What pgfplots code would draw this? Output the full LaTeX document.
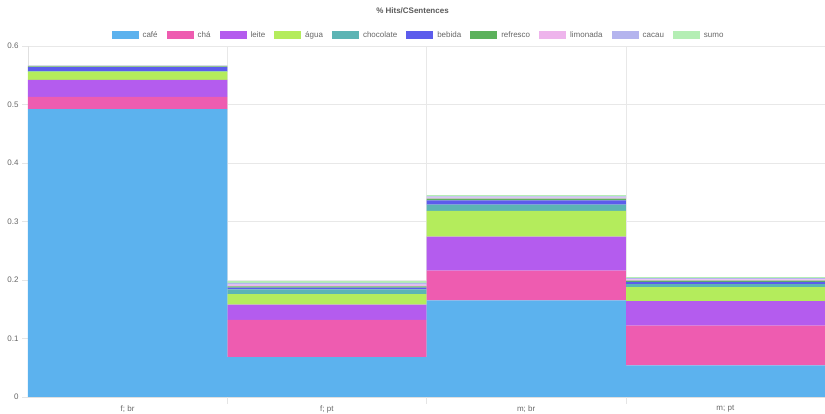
\documentclass[border=0pt]{standalone}
\usepackage{pgfplots}
\pgfplotsset{compat=1.18}
\usepackage{fontspec}
\setmainfont{Liberation Sans}
\definecolor{c1}{RGB}{92,178,238}
\definecolor{c2}{RGB}{238,92,176}
\definecolor{c3}{RGB}{180,92,238}
\definecolor{c4}{RGB}{180,236,92}
\definecolor{c5}{RGB}{92,180,180}
\definecolor{c6}{RGB}{92,92,236}
\definecolor{c7}{RGB}{92,178,92}
\definecolor{c8}{RGB}{238,180,236}
\definecolor{c9}{RGB}{180,180,238}
\definecolor{c10}{RGB}{180,238,180}
\begin{document}
\begin{tikzpicture}
\begin{axis}[
  at={(0,0)}, anchor=south west,
  scale only axis, width=797pt, height=351pt,
  ybar stacked, bar width=1,
  xmin=-0.5, xmax=3.5, ymin=0, ymax=0.6,
  xtick={0,1,2,3}, xticklabels={f; br, f; pt, m; br, m; pt},
  xtick style={draw=none},
  extra x ticks={0.5,1.5,2.5}, extra x tick labels={},
  extra x tick style={grid=major, xtick style={draw=black!10}, major tick length=7pt},
  ytick={0,0.1,0.2,0.3,0.4,0.5,0.6},
  yticklabel style={/pgf/number format/fixed, /pgf/number format/precision=1},
  /pgf/number format/assume math mode=true,
  ytick style={draw=black!10}, major tick length=6pt, tick align=outside,
  ymajorgrids, grid style={draw=black!9},
  axis lines*=left, axis line style={draw=black!12},
  ticklabel style={font=\fontsize{8}{9}\selectfont, text=black!60},
  xticklabel style={yshift=1pt},
  legend columns=10,
  legend style={at={(0.490,1.031)}, anchor=center, draw=none, fill=none,
    font=\fontsize{8}{9}\selectfont, text=black!60,
    nodes={text height=6pt, text depth=2pt},
    /tikz/every odd column/.append style={column sep=2pt},
    /tikz/every even column/.append style={column sep=7pt},
    inner sep=0pt},
  legend image code/.code={\fill[#1] (0pt,-4pt) rectangle (27pt,4pt);},
]
\addplot[fill=c1, draw=none] coordinates {(0,0.492) (1,0.068) (2,0.165) (3,0.054)};
\addlegendentry{café}
\addplot[fill=c2, draw=none] coordinates {(0,0.021) (1,0.064) (2,0.051) (3,0.068)};
\addlegendentry{chá}
\addplot[fill=c3, draw=none] coordinates {(0,0.029) (1,0.026) (2,0.058) (3,0.042)};
\addlegendentry{leite}
\addplot[fill=c4, draw=none] coordinates {(0,0.014) (1,0.018) (2,0.044) (3,0.024)};
\addlegendentry{água}
\addplot[fill=c5, draw=none] coordinates {(0,0.001) (1,0.008) (2,0.011) (3,0.005)};
\addlegendentry{chocolate}
\addplot[fill=c6, draw=none] coordinates {(0,0.007) (1,0.003) (2,0.007) (3,0.004)};
\addlegendentry{bebida}
\addplot[fill=c7, draw=none] coordinates {(0,0.001) (1,0.002) (2,0.003) (3,0.002)};
\addlegendentry{refresco}
\addplot[fill=c8, draw=none] coordinates {(0,0.001) (1,0.003) (2,0.002) (3,0.002)};
\addlegendentry{limonada}
\addplot[fill=c9, draw=none] coordinates {(0,0.0005) (1,0.003) (2,0.002) (3,0.002)};
\addlegendentry{cacau}
\addplot[fill=c10, draw=none] coordinates {(0,0.0005) (1,0.003) (2,0.002) (3,0.002)};
\addlegendentry{sumo}
\end{axis}
\node[font=\bfseries\fontsize{8}{9}\selectfont, text=black!65] at (384.5pt,386pt) {\% Hits/CSentences};
\pgfresetboundingbox
\path (-28pt,-17pt) rectangle (797pt,397pt);
\end{tikzpicture}
\end{document}
